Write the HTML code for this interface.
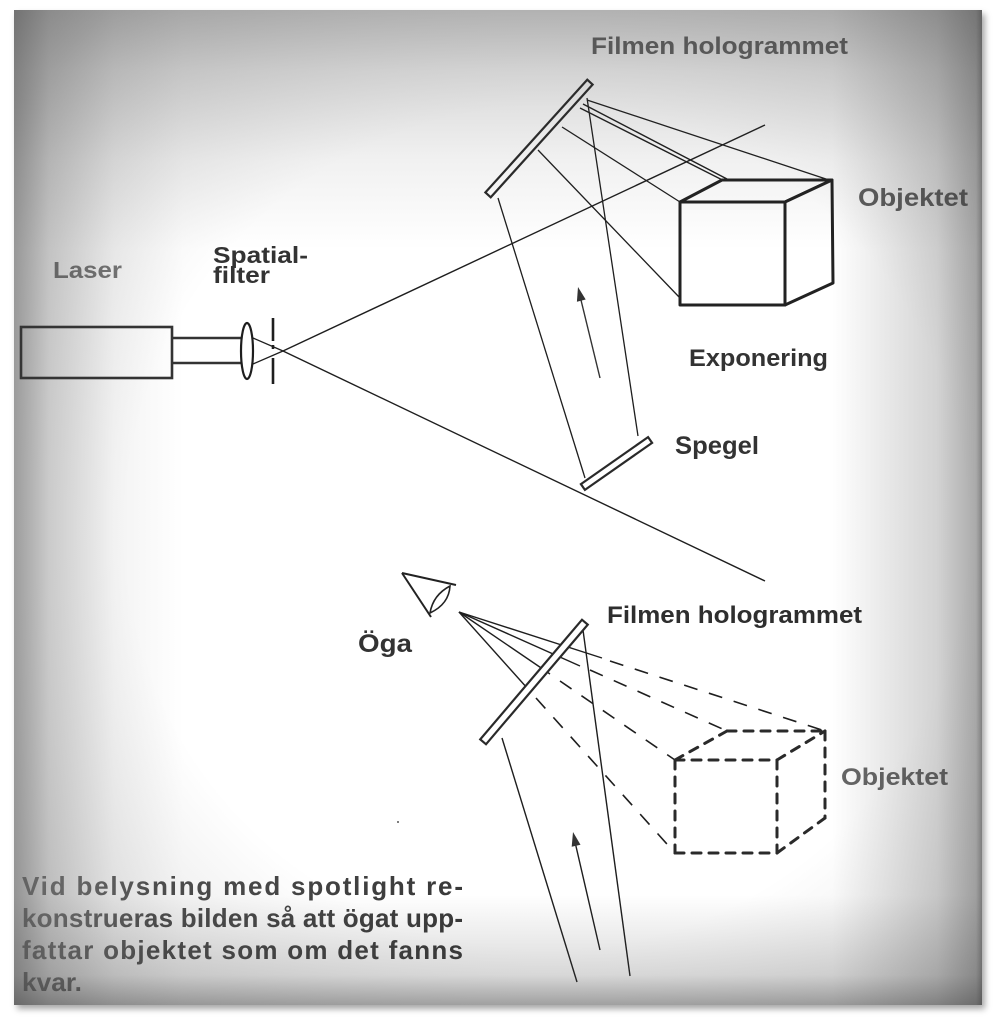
<!DOCTYPE html>
<html>
<head>
<meta charset="utf-8">
<style>
  html,body{margin:0;padding:0;background:#fff;}
  body{width:996px;height:1024px;position:relative;overflow:hidden;}
  #frame{position:absolute;left:14px;top:10px;width:968px;height:995px;background:#fff;
    box-shadow:3px 4px 6px rgba(0,0,0,0.35);}
  #art{position:absolute;left:0;top:0;}
  #vig{position:absolute;left:14px;top:10px;width:968px;height:995px;pointer-events:none;
    background:
      linear-gradient(to left, rgba(55,55,55,0.62) 0px, rgba(55,55,55,0.42) 6px, rgba(55,55,55,0.22) 45px, rgba(55,55,55,0) 150px),
      linear-gradient(to right, rgba(55,55,55,0.45) 0px, rgba(55,55,55,0.22) 35px, rgba(55,55,55,0.06) 100px, rgba(55,55,55,0) 170px),
      linear-gradient(to bottom, rgba(55,55,55,0.34) 0px, rgba(55,55,55,0.2) 60px, rgba(55,55,55,0.07) 150px, rgba(55,55,55,0) 240px),
      linear-gradient(to top, rgba(55,55,55,0.45) 0px, rgba(55,55,55,0.18) 30px, rgba(55,55,55,0) 110px),
      radial-gradient(ellipse 70% 68% at 55% 52%, rgba(55,55,55,0) 62%, rgba(55,55,55,0.18) 100%);
  }
  text{font-family:"Liberation Sans", Arial, sans-serif;font-weight:bold;}
</style>
</head>
<body>
<div id="frame"></div>
<svg id="art" width="996" height="1024" viewBox="0 0 996 1024" xmlns="http://www.w3.org/2000/svg">
  <defs>
    <linearGradient id="pg" x1="22" y1="0" x2="470" y2="0" gradientUnits="userSpaceOnUse">
      <stop offset="0" stop-color="#8a8a8a"/>
      <stop offset="0.3" stop-color="#4e4e4e"/>
      <stop offset="1" stop-color="#383838"/>
    </linearGradient>
  </defs>

  <!-- ============ TOP: exposure setup ============ -->
  <g stroke="#1e1e1e" fill="none">
    <rect x="21" y="327" width="151" height="51" stroke-width="2.6" stroke="#333"/>
    <line x1="172" y1="338" x2="242" y2="338" stroke-width="2.6" stroke="#333"/>
    <line x1="172" y1="363" x2="242" y2="363" stroke-width="2.6" stroke="#333"/>
    <ellipse cx="247" cy="351" rx="6" ry="28" stroke-width="2.2" fill="#fff"/>
    <line x1="253" y1="338" x2="283" y2="351" stroke-width="1.3"/>
    <line x1="253" y1="364" x2="283" y2="351" stroke-width="1.3"/>
    <line x1="273" y1="318" x2="273" y2="341" stroke-width="2.6"/>
    <line x1="273" y1="345" x2="273" y2="349" stroke-width="2.6"/>
    <line x1="273" y1="358" x2="273" y2="384" stroke-width="2.6"/>
    <line x1="283" y1="351" x2="765" y2="125" stroke-width="1.4"/>
    <line x1="283" y1="351" x2="765" y2="581" stroke-width="1.4"/>

    <line x1="498" y1="198" x2="585" y2="478" stroke-width="1.3"/>
    <line x1="587" y1="98" x2="638" y2="436" stroke-width="1.3"/>

    <line x1="587" y1="100" x2="832" y2="181" stroke-width="1.3"/>
    <line x1="580" y1="108" x2="768" y2="203" stroke-width="1.4"/>
    <line x1="583" y1="104" x2="727" y2="179" stroke-width="1.4"/>
    <line x1="562" y1="127" x2="680" y2="202" stroke-width="1.3"/>
    <line x1="538" y1="150" x2="680" y2="298" stroke-width="1.3"/>

    <g stroke="#222" stroke-width="3" stroke-linejoin="round" fill="#fff">
      <polygon points="680,202 722,180 832,180 785,202"/>
      <polygon points="785,202 832,180 833,283 785,305"/>
      <rect x="680" y="202" width="105" height="103"/>
    </g>
  </g>

  <line x1="600" y1="378" x2="580" y2="296" stroke="#333" stroke-width="1.4"/>
  <polygon points="578,287 585.7,299.5 576.9,301.7" fill="#333"/>

  <g transform="translate(539,138.5) rotate(-47.9)">
    <rect x="-76" y="-3.6" width="152" height="7.2" fill="#fff" stroke="#2a2a2a" stroke-width="2.2"/>
  </g>
  <g transform="translate(616.5,463.5) rotate(-35)">
    <rect x="-41" y="-3.5" width="82" height="7" fill="#fff" stroke="#2a2a2a" stroke-width="2.2"/>
  </g>

  <text x="53" y="278" font-size="23" fill="#787878" textLength="69" lengthAdjust="spacingAndGlyphs">Laser</text>
  <text x="213" y="263" font-size="23" fill="#333" textLength="95" lengthAdjust="spacingAndGlyphs">Spatial-</text>
  <text x="213" y="283" font-size="23" fill="#333" textLength="57" lengthAdjust="spacingAndGlyphs">filter</text>
  <text x="591" y="54" font-size="24" fill="#666" textLength="257" lengthAdjust="spacingAndGlyphs">Filmen hologrammet</text>
  <text x="858" y="206" font-size="25" fill="#5e5e5e" textLength="110" lengthAdjust="spacingAndGlyphs">Objektet</text>
  <text x="689" y="366" font-size="24" fill="#333" textLength="139" lengthAdjust="spacingAndGlyphs">Exponering</text>
  <text x="675" y="454" font-size="25" fill="#333" textLength="84" lengthAdjust="spacingAndGlyphs">Spegel</text>

  <!-- ============ BOTTOM: reconstruction ============ -->
  <g stroke="#222" fill="none" stroke-width="2">
    <line x1="402" y1="573" x2="456" y2="585"/>
    <line x1="402" y1="573" x2="431" y2="617"/>
    <path d="M450,586 Q449,604 430,613 Q433,595 450,586 Z" stroke-width="1.6"/>
  </g>

  <g stroke="#1e1e1e" stroke-width="1.4" fill="none">
    <line x1="459" y1="612" x2="602" y2="658"/>
    <line x1="459" y1="612" x2="580" y2="666"/>
    <line x1="459" y1="612" x2="550" y2="674"/>
    <line x1="459" y1="612" x2="528" y2="689"/>
  </g>
  <g stroke="#1e1e1e" stroke-width="1.6" fill="none" stroke-dasharray="14 12">
    <line x1="610" y1="661" x2="825" y2="731"/>
    <line x1="590" y1="670" x2="727" y2="731"/>
    <line x1="560" y1="681" x2="675" y2="760"/>
    <line x1="536" y1="698" x2="675" y2="853"/>
  </g>

  <g stroke="#2a2a2a" stroke-width="3" fill="none" stroke-dasharray="9 8" stroke-linecap="round">
    <line x1="675" y1="760" x2="777" y2="760"/>
    <line x1="675" y1="760" x2="675" y2="853"/>
    <line x1="777" y1="760" x2="777" y2="853"/>
    <line x1="675" y1="853" x2="777" y2="853"/>
    <line x1="727" y1="731" x2="825" y2="731"/>
    <line x1="675" y1="760" x2="727" y2="731"/>
    <line x1="777" y1="760" x2="825" y2="731"/>
    <line x1="825" y1="731" x2="825" y2="818"/>
    <line x1="777" y1="853" x2="825" y2="818"/>
  </g>

  <g stroke="#1e1e1e" stroke-width="1.4">
    <line x1="502" y1="738" x2="577" y2="982"/>
    <line x1="583" y1="630" x2="630" y2="976"/>
    <line x1="600" y1="950" x2="575" y2="842"/>
  </g>
  <polygon points="573,832 580.5,844.7 571.7,846.7" fill="#333"/>

  <g transform="translate(534,682) rotate(-49.6)">
    <rect x="-78.5" y="-3.8" width="157" height="7.6" fill="#fff" stroke="#2a2a2a" stroke-width="2.2"/>
  </g>

  <circle cx="398" cy="822" r="1" fill="#555"/>

  <text x="358" y="652" font-size="25" fill="#333" textLength="54" lengthAdjust="spacingAndGlyphs">Öga</text>
  <text x="607" y="623" font-size="24" fill="#2e2e2e" textLength="255" lengthAdjust="spacingAndGlyphs">Filmen hologrammet</text>
  <text x="841" y="785" font-size="24" fill="#666" textLength="107" lengthAdjust="spacingAndGlyphs">Objektet</text>

  <g font-size="26" fill="url(#pg)">
    <text x="22" y="895" textLength="441" lengthAdjust="spacing">Vid belysning med spotlight re-</text>
    <text x="22" y="927" textLength="441" lengthAdjust="spacing">konstrueras bilden så att ögat upp-</text>
    <text x="22" y="959" textLength="441" lengthAdjust="spacing">fattar objektet som om det fanns</text>
    <text x="22" y="991" textLength="60" lengthAdjust="spacingAndGlyphs">kvar.</text>
  </g>
</svg>
<div id="vig"></div>
</body>
</html>
